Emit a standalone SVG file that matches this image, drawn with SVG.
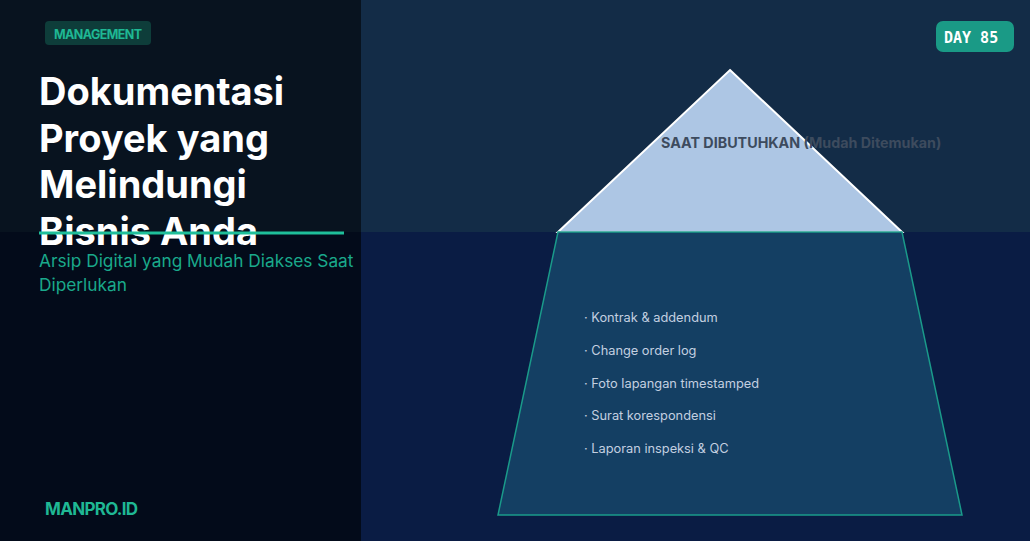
<svg xmlns="http://www.w3.org/2000/svg" width="1030" height="541" viewBox="0 0 1030 541">
<style>
.title{font-family:Inter,"Liberation Sans",sans-serif;font-weight:700;font-size:38px;fill:#ffffff}
.sub{font-family:Inter,"Liberation Sans",sans-serif;font-size:17.3px;fill:#1aa98b}
.item{font-family:Inter,"Liberation Sans",sans-serif;font-size:12.8px;fill:#c3cfe0}
.lab{font-family:Inter,"Liberation Sans",sans-serif;font-weight:700;font-size:14.3px;fill:#3d4b5e}
</style>
<rect x="0" y="0" width="1030" height="232" fill="#132c47"/>
<rect x="0" y="232" width="1030" height="309" fill="#0a1c44"/>
<rect x="0" y="0" width="361" height="232" fill="#08131f"/>
<rect x="0" y="232" width="361" height="309" fill="#030b1a"/>
<g id="top">
<polygon points="730,70 902,232 558,232" fill="#adc6e4" stroke="#ffffff" stroke-width="2"/>
<text class="lab" x="661" y="148">SAAT DIBUTUHKAN (Mudah Ditemukan)</text>
</g>
<g id="bottom">
<polygon points="558,232 902,232 962,515 498,515" fill="#143f63" stroke="#1a9a8a" stroke-width="1.5"/>
<text class="item" x="584" y="322">· Kontrak &amp; addendum</text>
<text class="item" x="584" y="355">· Change order log</text>
<text class="item" x="584" y="388">· Foto lapangan timestamped</text>
<text class="item" x="584" y="420">· Surat korespondensi</text>
<text class="item" x="584" y="453">· Laporan inspeksi &amp; QC</text>
</g>
<g id="badge">
<rect x="45" y="21" width="106" height="24" rx="4" fill="#0e3d3a"/>
<text x="54" y="39" font-family="Inter,'Liberation Sans',sans-serif" font-weight="700" font-size="12.5" fill="#1fb894" letter-spacing="-0.6">MANAGEMENT</text>
</g>
<g id="title">
<text class="title" x="39" y="105">Dokumentasi</text>
<text class="title" x="39" y="152">Proyek yang</text>
<text class="title" x="39" y="198">Melindungi</text>
<text class="title" x="39" y="245">Bisnis Anda</text>
<line x1="39" y1="233" x2="344" y2="233" stroke="#1fbf9a" stroke-width="3"/>
<text class="sub" x="39" y="267">Arsip Digital yang Mudah Diakses Saat</text>
<text class="sub" x="39" y="291">Diperlukan</text>
</g>
<g id="day">
<rect x="936" y="21" width="78" height="31" rx="7" fill="#1a9a86"/>
<text x="944" y="43" font-family="'DejaVu Sans Mono','Liberation Mono',monospace" font-weight="700" font-size="15" fill="#ffffff">DAY 85</text>
</g>
<g id="brand">
<text x="45" y="515" font-family="Inter,'Liberation Sans',sans-serif" font-weight="700" font-size="17" fill="#1fb894" letter-spacing="-0.7">MANPRO.ID</text>
</g>
</svg>
